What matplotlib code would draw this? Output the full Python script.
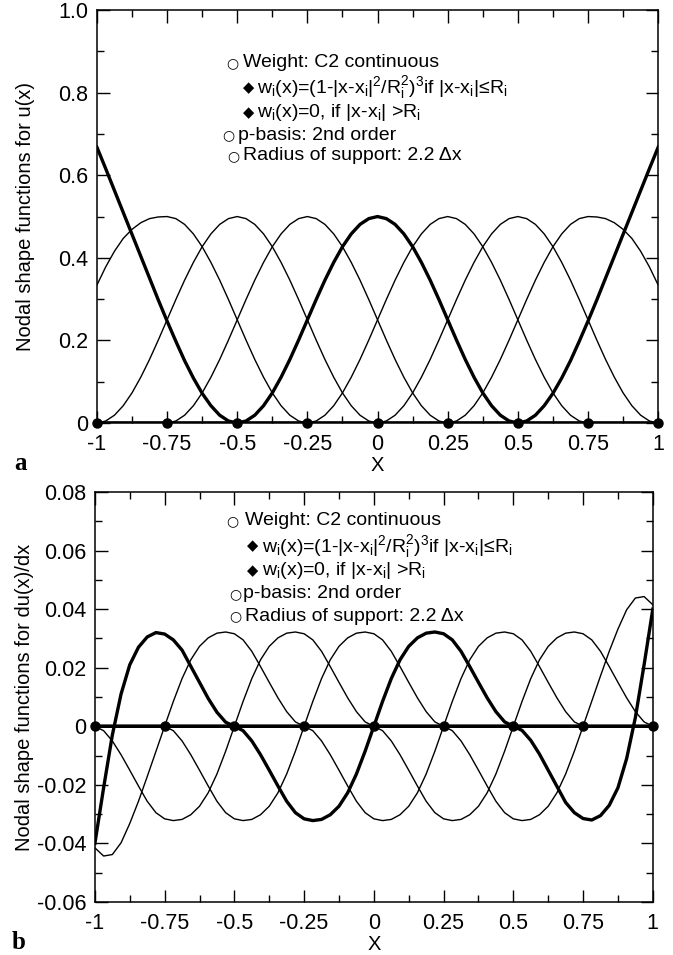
import numpy as np
import matplotlib.pyplot as plt
from matplotlib.ticker import MultipleLocator

plt.rcParams['font.family'] = ['Liberation Sans', 'DejaVu Sans']
plt.rcParams['mathtext.fontset'] = 'custom'
plt.rcParams['mathtext.rm'] = 'Liberation Sans'
plt.rcParams['mathtext.it'] = 'Liberation Sans'

# nodes, every 0.25 on [-1, 1]; curves sampled every 1/32
nodes = [-1, -0.75, -0.5, -0.25, 0, 0.25, 0.5, 0.75, 1]
thick_nodes = [0, 4, 8]
xs = np.linspace(-1, 1, 65)

# panel a: interior shape function, half profile, distance 0 .. 0.5 from node
u_half = [0.500, 0.495, 0.481, 0.458, 0.427, 0.389, 0.346, 0.299, 0.250,
          0.201, 0.154, 0.111, 0.073, 0.042, 0.019, 0.005, 0.0]
# boundary node x=-1, on x = -1 .. -0.5
u_edge = [0.668, 0.616, 0.563, 0.510, 0.457, 0.404, 0.351, 0.298, 0.247,
          0.198, 0.151, 0.109, 0.072, 0.042, 0.019, 0.005, 0.0]
# node x=-0.75, left part x = -1 .. -0.75
u_near = [0.334, 0.378, 0.416, 0.447, 0.469, 0.485, 0.495, 0.499, 0.500]

# panel b: same layout for du/dx (antisymmetric)
du_half = [0.0, 0.0085, 0.0163, 0.0227, 0.0273, 0.0302, 0.0318, 0.0322, 0.0316,
           0.0295, 0.0256, 0.0204, 0.0150, 0.0097, 0.0050, 0.0015, 0.0]
du_edge = [-0.040, -0.021, -0.003, 0.011, 0.021, 0.027, 0.0305, 0.032, 0.0315,
           0.0295, 0.026, 0.0205, 0.015, 0.0095, 0.0048, 0.0014, 0.0]
du_near = [-0.0415, -0.0443, -0.0438, -0.0398, -0.0332, -0.0256, -0.0172, -0.0086, 0.0]

x_ticks = [-1, -0.75, -0.5, -0.25, 0, 0.25, 0.5, 0.75, 1]
x_labels = ['-1', '-0.75', '-0.5', '-0.25', '0', '0.25', '0.5', '0.75', '1']
ya_ticks = [0, 0.2, 0.4, 0.6, 0.8, 1.0]
ya_labels = ['0', '0.2', '0.4', '0.6', '0.8', '1.0']
yb_ticks = [-0.06, -0.04, -0.02, 0, 0.02, 0.04, 0.06, 0.08]
yb_labels = ['-0.06', '-0.04', '-0.02', '0', '0.02', '0.04', '0.06', '0.08']

formula = ('w$_{\\rm i}$(x)=(1-|x-x$_{\\rm i}$|$^2$/R$_{\\rm i}^2$)$^3$if '
           '|x-x$_{\\rm i}$|\u2264R$_{\\rm i}$')
notes = ['Weight: C2 continuous', formula,
         'w$_{\\rm i}$(x)=0, if |x-x$_{\\rm i}$| >R$_{\\rm i}$',
         'p-basis: 2nd order', 'Radius of support: 2.2 \u0394x']
bullets = ['\u25cb', '\u25c6', '\u25c6', '\u25cb', '\u25cb']


def shape_curves(half, edge, near, odd):
    sign = -1 if odd else 1
    full = [sign * v for v in half[:0:-1]] + list(half)
    ys = []
    for n in range(9):
        y = np.zeros(65)
        if n == 0:
            y[0:17] = edge
        elif n == 1:
            y[0:9] = near
            y[8:25] = half
        elif n >= 7:
            y = sign * ys[8 - n][::-1]
        else:
            c = 8 * n
            y[c - 16:c + 17] = full
        ys.append(y)
    return ys


fig = plt.figure(figsize=(6.73, 9.55), dpi=100)
ax1 = fig.add_axes([0.144, 0.557, 0.834, 0.4325])
ax2 = fig.add_axes([0.141, 0.0555, 0.829, 0.4293])

panels = [
    (ax1, shape_curves(u_half, u_edge, u_near, False), ya_ticks, ya_labels,
     0.1, (0, 1), 'Nodal shape functions for u(x)'),
    (ax2, shape_curves(du_half, du_edge, du_near, True), yb_ticks, yb_labels,
     0.01, (-0.06, 0.08), 'Nodal shape functions for du(x)/dx'),
]

for ax, ys, yt, yl, ymin, ylim, ylab in panels:
    for n, y in enumerate(ys):
        if n not in thick_nodes:
            ax.plot(xs, y, color='black', lw=1.0)
    for n in thick_nodes:
        ax.plot(xs, ys[n], color='black', lw=2.4)
    ax.plot(nodes, np.zeros(len(nodes)), 'o', color='black', ms=6.5,
            clip_on=False, zorder=5)
    ax.set_xlim(-1, 1)
    ax.set_ylim(*ylim)
    ax.set_xticks(x_ticks)
    ax.set_xticklabels(x_labels)
    ax.set_yticks(yt)
    ax.set_yticklabels(yl)
    ax.xaxis.set_minor_locator(MultipleLocator(0.125))
    ax.yaxis.set_minor_locator(MultipleLocator(ymin))
    ax.tick_params(which='both', direction='in', top=True, right=True,
                   width=1.0, labelsize=15.5)
    ax.tick_params(which='major', length=9)
    ax.tick_params(which='minor', length=5)
    ax.tick_params(axis='x', pad=8)
    ax.tick_params(axis='y', pad=6)
    for s in ax.spines.values():
        s.set_linewidth(1.1)
    ax.set_ylabel(ylab, fontsize=14.5)
    ax.yaxis.set_label_coords(-0.11, 0.5)
    ax.set_xlabel('X', fontsize=14.5)
    ax.xaxis.set_label_coords(0.5, -0.08)

# annotation blocks (axes fractions)
a_pos = [(0.242, 0.260, 0.872), (0.271, 0.286, 0.812), (0.271, 0.286, 0.752),
         (0.2335, 0.251, 0.697), (0.2424, 0.260, 0.647)]
b_pos = [(0.247, 0.269, 0.930), (0.283, 0.299, 0.868), (0.283, 0.299, 0.808),
         (0.251, 0.266, 0.752), (0.251, 0.269, 0.697)]
for ax, pos in [(ax1, a_pos), (ax2, b_pos)]:
    for (bx, tx, ty), b, t in zip(pos, bullets, notes):
        ax.text(bx, ty, b, transform=ax.transAxes, ha='center', va='center',
                fontsize=10.5 if b == '\u25c6' else 10, family=['DejaVu Sans'])
        ax.text(tx, ty, t, transform=ax.transAxes, ha='left', va='center',
                fontsize=14)

fig.text(0.03, 1 - 464 / 955, 'a', family='Liberation Serif', weight='bold',
         fontsize=18, ha='center', va='center')
fig.text(0.028, 1 - 942 / 955, 'b', family='Liberation Serif', weight='bold',
         fontsize=18, ha='center', va='center')

fig.savefig('out.png', dpi=100)
